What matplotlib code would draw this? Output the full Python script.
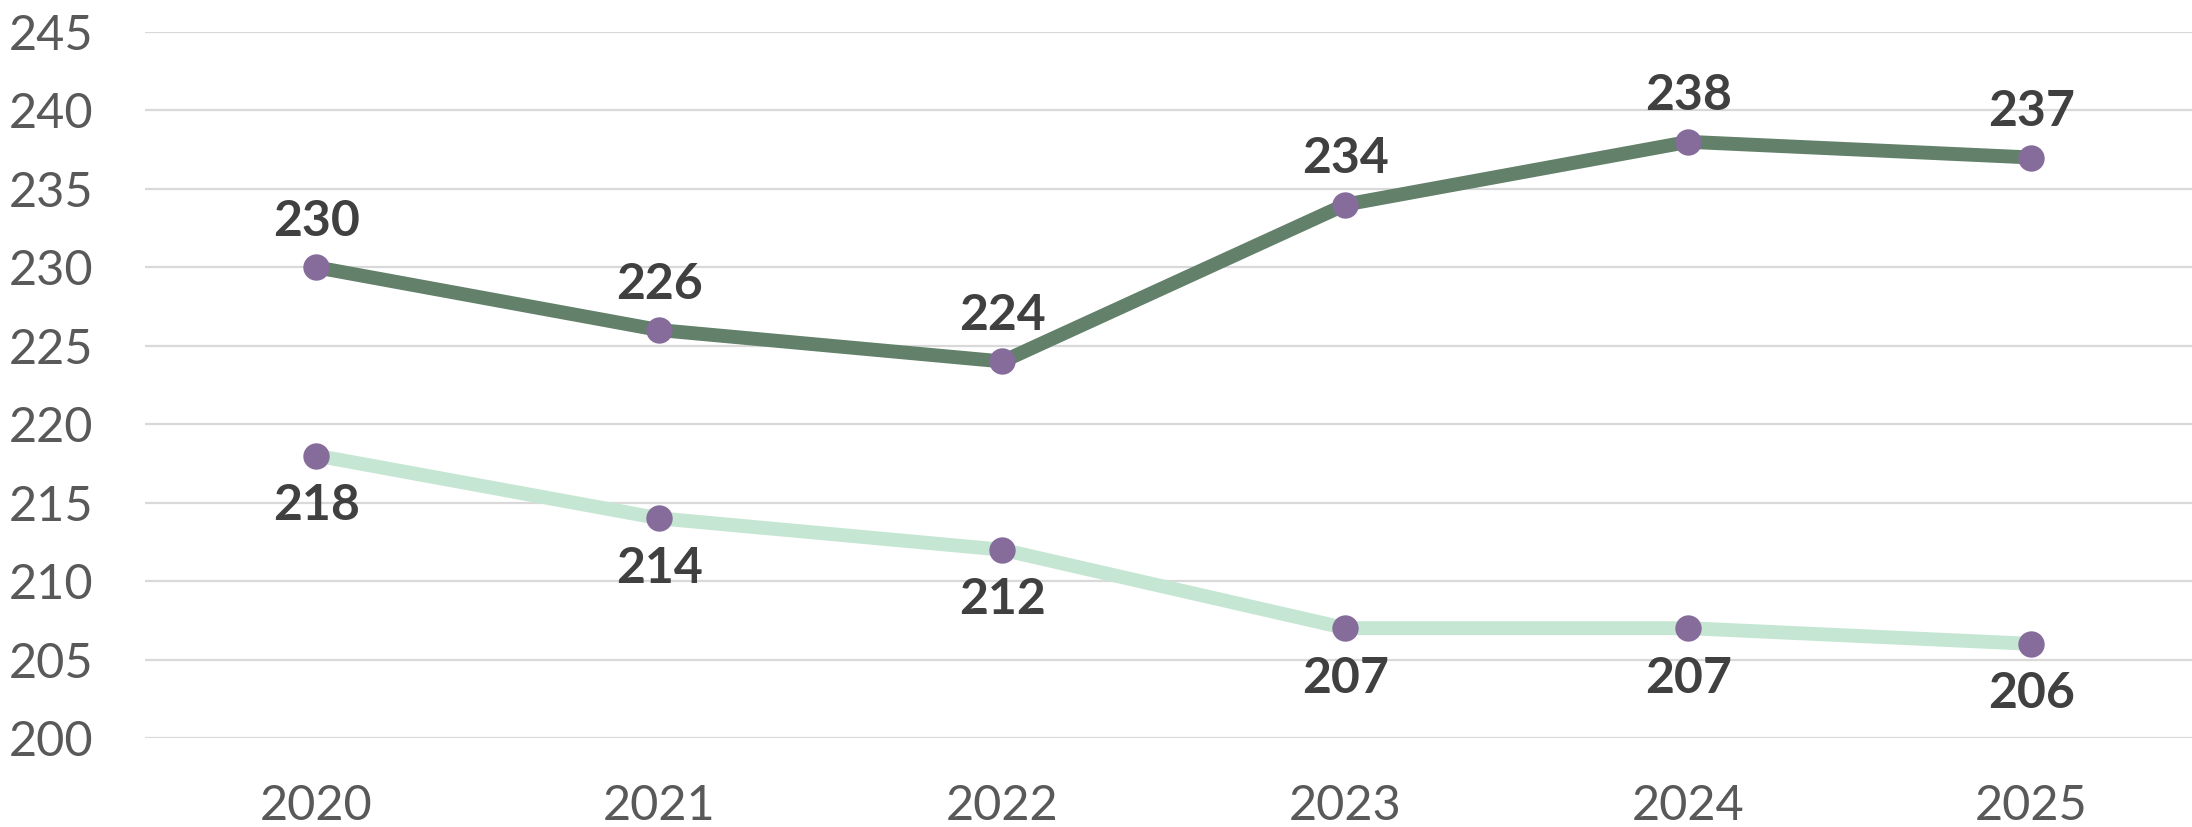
import matplotlib.pyplot as plt

years = ["2020", "2021", "2022", "2023", "2024", "2025"]
upper_values = [230, 226, 224, 234, 238, 237]
lower_values = [218, 214, 212, 207, 207, 206]
y_ticks = [200, 205, 210, 215, 220, 225, 230, 235, 240, 245]

plt.rcParams['font.family'] = ['Lato', 'DejaVu Sans']

fig = plt.figure(figsize=(21.92, 8.27), dpi=100)
ax = fig.add_axes([145 / 2192, 89 / 827, 2058 / 2192, 706 / 827])

x = range(len(years))

# series lines with purple markers
ax.plot(x, upper_values, color="#62806A", linewidth=10, solid_joinstyle="round",
        marker="o", markersize=19, markerfacecolor="#866C9B", markeredgewidth=0, zorder=3)
ax.plot(x, lower_values, color="#C5E6D3", linewidth=10, solid_joinstyle="round",
        marker="o", markersize=19, markerfacecolor="#866C9B", markeredgewidth=0, zorder=3)

# data labels
for i, v in enumerate(upper_values):
    ax.annotate(str(v), (i, v), xytext=(0, 33), textcoords="offset points",
                ha="center", va="center", fontsize=36, fontweight="bold", color="#404040")
for i, v in enumerate(lower_values):
    ax.annotate(str(v), (i, v), xytext=(0, -36), textcoords="offset points",
                ha="center", va="center", fontsize=36, fontweight="bold", color="#404040")

ax.set_xlim(-0.5, len(years) - 0.5)
ax.set_ylim(200, 245)
ax.set_xticks(list(x))
ax.set_xticklabels(years)
ax.set_yticks(y_ticks)

ax.tick_params(axis="both", length=0, labelsize=35, labelcolor="#595959")
ax.tick_params(axis="y", pad=37)
ax.tick_params(axis="x", pad=33)

ax.grid(axis="y", color="#D9D9D9", linewidth=1.6)
ax.set_axisbelow(True)
for s in ax.spines.values():
    s.set_visible(False)

fig.savefig("out.png", dpi=100)
